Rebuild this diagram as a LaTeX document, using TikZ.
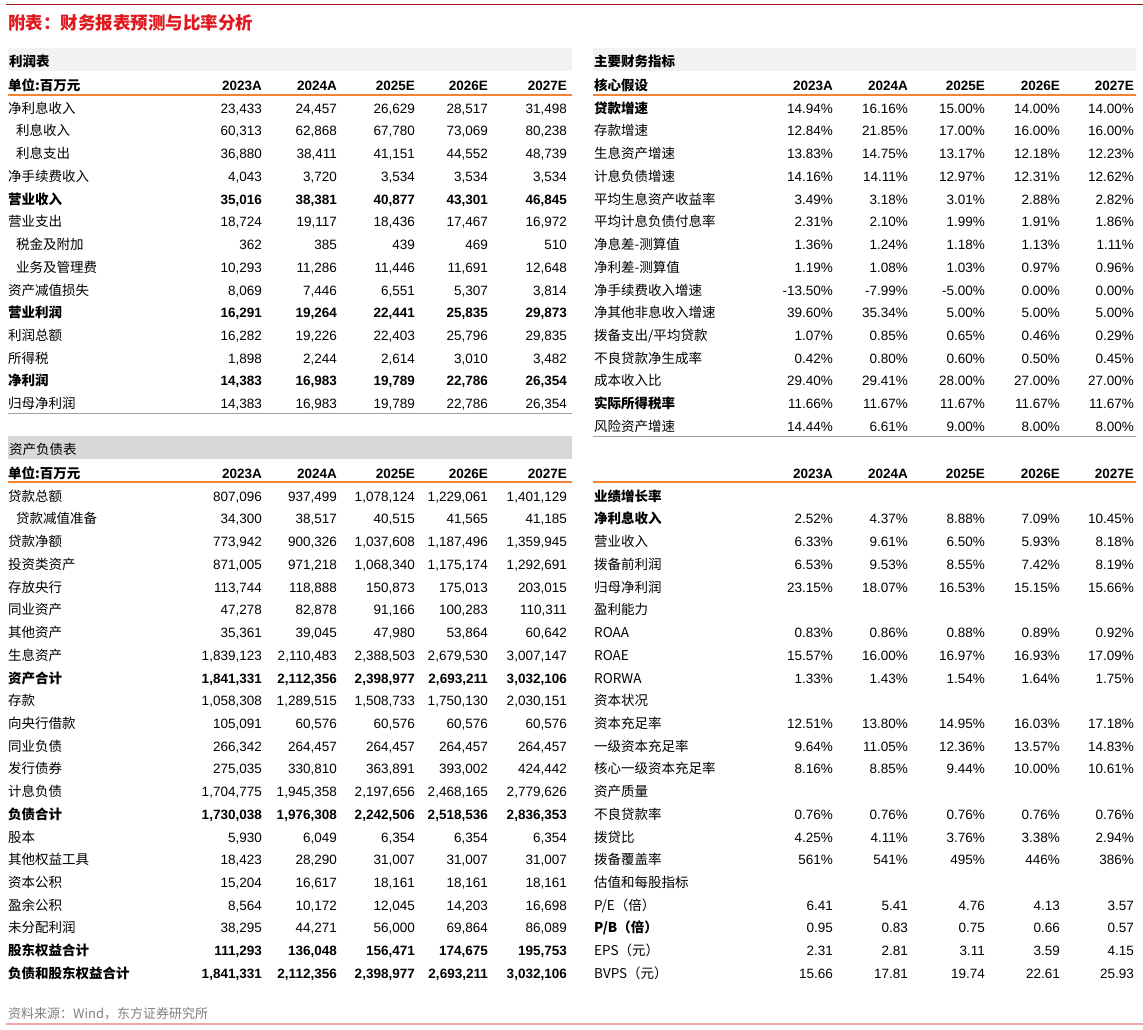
\documentclass[tikz,border=0pt]{standalone}
\usepackage{fontspec}
\setmainfont{Liberation Sans}
\newfontfamily\cjk{Noto Sans CJK SC}
\definecolor{titlered}{RGB}{222,24,30}
\definecolor{topred}{RGB}{170,20,20}
\definecolor{footred}{RGB}{242,168,168}
\definecolor{headorange}{RGB}{242,132,52}
\definecolor{bandlight}{RGB}{242,242,242}
\definecolor{banddark}{RGB}{216,216,216}
\definecolor{sepgray}{RGB}{160,160,160}

\begin{document}
\begin{tikzpicture}[x=1pt,y=-1pt,
  every node/.style={inner sep=0pt,text height=13pt,text depth=0.5pt},
  ln/.style={anchor=west,font=\cjk\fontsize{13.5}{16}\selectfont},
  lb/.style={anchor=west,font=\cjk\bfseries\fontsize{13.5}{16}\selectfont},
  li/.style={ln,xshift=8pt},
  vn/.style={anchor=east,font=\fontsize{13.5}{16}\selectfont},
  vb/.style={anchor=east,font=\bfseries\fontsize{13.5}{16}\selectfont},
  headline/.style={headorange,line width=1.5pt},
  endline/.style={sepgray,line width=1pt}]
\useasboundingbox (0,0) rectangle (1143,1030);
\fill[white] (0,0) rectangle (1143,1030);

% title and outer rules
\draw[topred,line width=1pt] (6,5) -- (1143,5);
\node[anchor=west,font=\cjk\bfseries\fontsize{17.5}{20}\selectfont,text=titlered] (title) at (8,23) {附表：财务报表预测与比率分析};
\draw[footred,line width=2pt] (6,1024) -- (1143,1024);
\node[anchor=west,font=\cjk\fontsize{13}{15}\selectfont,text=gray] (source) at (8,1012) {资料来源：Wind，东方证券研究所};

% bands and header rows
\fill[bandlight] (8,48) rectangle (572,71);
\fill[bandlight] (593,48) rectangle (1136,71);
\fill[banddark] (8,436) rectangle (572,459);
\node[lb] (isband) at (9,60) {利润表};
\node[lb] (kpiband) at (594,60) {主要财务指标};
\node[ln] (bsband) at (9,448) {资产负债表};
\node[lb] (ishead) at (8,84) {单位:百万元};
\node[lb] (kpihead) at (594,84) {核心假设};
\node[lb] (bshead) at (8,472) {单位:百万元};
\foreach \yr/\xl/\xr [count=\k] in {2023A/262/833,2024A/337/908,2025E/415/985,2026E/488/1060,2027E/567/1134}{
  \node[vb] (isyr\k) at (\xl,84) {\yr};
  \node[vb] (bsyr\k) at (\xl,472) {\yr};
  \node[vb] (kpiyr\k) at (\xr,84) {\yr};
  \node[vb] (grwyr\k) at (\xr,472) {\yr};
}
\draw[headline] (8,95) -- (572,95);
\draw[headline] (593,95) -- (1136,95);
\draw[headline] (8,482) -- (572,482);
\draw[headline] (593,482) -- (1136,482);

% income statement
\foreach \ls/\vs/\lab/\a/\b/\c/\d/\e [count=\i from 0] in {
  {ln/vn/净利息收入/23,433/24,457/26,629/28,517/31,498},
  {li/vn/利息收入/60,313/62,868/67,780/73,069/80,238},
  {li/vn/利息支出/36,880/38,411/41,151/44,552/48,739},
  {ln/vn/净手续费收入/4,043/3,720/3,534/3,534/3,534},
  {lb/vb/营业收入/35,016/38,381/40,877/43,301/46,845},
  {ln/vn/营业支出/18,724/19,117/18,436/17,467/16,972},
  {li/vn/税金及附加/362/385/439/469/510},
  {li/vn/业务及管理费/10,293/11,286/11,446/11,691/12,648},
  {ln/vn/资产减值损失/8,069/7,446/6,551/5,307/3,814},
  {lb/vb/营业利润/16,291/19,264/22,441/25,835/29,873},
  {ln/vn/利润总额/16,282/19,226/22,403/25,796/29,835},
  {ln/vn/所得税/1,898/2,244/2,614/3,010/3,482},
  {lb/vb/净利润/14,383/16,983/19,789/22,786/26,354},
  {ln/vn/归母净利润/14,383/16,983/19,789/22,786/26,354}}{
  \node[\ls] (is\i) at (8,107+22.72*\i) {\lab};
  \node[\vs] (is\i-1) at (262,107+22.72*\i) {\a};
  \node[\vs] (is\i-2) at (337,107+22.72*\i) {\b};
  \node[\vs] (is\i-3) at (415,107+22.72*\i) {\c};
  \node[\vs] (is\i-4) at (488,107+22.72*\i) {\d};
  \node[\vs] (is\i-5) at (567,107+22.72*\i) {\e};
}
\draw[endline] (8,413) -- (572,413);

% balance sheet
\foreach \ls/\vs/\lab/\a/\b/\c/\d/\e [count=\i from 0] in {
  {ln/vn/贷款总额/807,096/937,499/1,078,124/1,229,061/1,401,129},
  {li/vn/贷款减值准备/34,300/38,517/40,515/41,565/41,185},
  {ln/vn/贷款净额/773,942/900,326/1,037,608/1,187,496/1,359,945},
  {ln/vn/投资类资产/871,005/971,218/1,068,340/1,175,174/1,292,691},
  {ln/vn/存放央行/113,744/118,888/150,873/175,013/203,015},
  {ln/vn/同业资产/47,278/82,878/91,166/100,283/110,311},
  {ln/vn/其他资产/35,361/39,045/47,980/53,864/60,642},
  {ln/vn/生息资产/1,839,123/2,110,483/2,388,503/2,679,530/3,007,147},
  {lb/vb/资产合计/1,841,331/2,112,356/2,398,977/2,693,211/3,032,106},
  {ln/vn/存款/1,058,308/1,289,515/1,508,733/1,750,130/2,030,151},
  {ln/vn/向央行借款/105,091/60,576/60,576/60,576/60,576},
  {ln/vn/同业负债/266,342/264,457/264,457/264,457/264,457},
  {ln/vn/发行债券/275,035/330,810/363,891/393,002/424,442},
  {ln/vn/计息负债/1,704,775/1,945,358/2,197,656/2,468,165/2,779,626},
  {lb/vb/负债合计/1,730,038/1,976,308/2,242,506/2,518,536/2,836,353},
  {ln/vn/股本/5,930/6,049/6,354/6,354/6,354},
  {ln/vn/其他权益工具/18,423/28,290/31,007/31,007/31,007},
  {ln/vn/资本公积/15,204/16,617/18,161/18,161/18,161},
  {ln/vn/盈余公积/8,564/10,172/12,045/14,203/16,698},
  {ln/vn/未分配利润/38,295/44,271/56,000/69,864/86,089},
  {lb/vb/股东权益合计/111,293/136,048/156,471/174,675/195,753},
  {lb/vb/负债和股东权益合计/1,841,331/2,112,356/2,398,977/2,693,211/3,032,106}}{
  \node[\ls] (bs\i) at (8,495+22.72*\i) {\lab};
  \node[\vs] (bs\i-1) at (262,495+22.72*\i) {\a};
  \node[\vs] (bs\i-2) at (337,495+22.72*\i) {\b};
  \node[\vs] (bs\i-3) at (415,495+22.72*\i) {\c};
  \node[\vs] (bs\i-4) at (488,495+22.72*\i) {\d};
  \node[\vs] (bs\i-5) at (567,495+22.72*\i) {\e};
}

% key assumptions
\foreach \ls/\vs/\lab/\a/\b/\c/\d/\e [count=\i from 0] in {
  {lb/vn/贷款增速/14.94\%/16.16\%/15.00\%/14.00\%/14.00\%},
  {ln/vn/存款增速/12.84\%/21.85\%/17.00\%/16.00\%/16.00\%},
  {ln/vn/生息资产增速/13.83\%/14.75\%/13.17\%/12.18\%/12.23\%},
  {ln/vn/计息负债增速/14.16\%/14.11\%/12.97\%/12.31\%/12.62\%},
  {ln/vn/平均生息资产收益率/3.49\%/3.18\%/3.01\%/2.88\%/2.82\%},
  {ln/vn/平均计息负债付息率/2.31\%/2.10\%/1.99\%/1.91\%/1.86\%},
  {ln/vn/净息差-测算值/1.36\%/1.24\%/1.18\%/1.13\%/1.11\%},
  {ln/vn/净利差-测算值/1.19\%/1.08\%/1.03\%/0.97\%/0.96\%},
  {ln/vn/净手续费收入增速/-13.50\%/-7.99\%/-5.00\%/0.00\%/0.00\%},
  {ln/vn/净其他非息收入增速/39.60\%/35.34\%/5.00\%/5.00\%/5.00\%},
  {ln/vn/{拨备支出/平均贷款}/1.07\%/0.85\%/0.65\%/0.46\%/0.29\%},
  {ln/vn/不良贷款净生成率/0.42\%/0.80\%/0.60\%/0.50\%/0.45\%},
  {ln/vn/成本收入比/29.40\%/29.41\%/28.00\%/27.00\%/27.00\%},
  {lb/vn/实际所得税率/11.66\%/11.67\%/11.67\%/11.67\%/11.67\%},
  {ln/vn/风险资产增速/14.44\%/6.61\%/9.00\%/8.00\%/8.00\%}}{
  \node[\ls] (kpi\i) at (594,107+22.72*\i) {\lab};
  \node[\vs] (kpi\i-1) at (833,107+22.72*\i) {\a};
  \node[\vs] (kpi\i-2) at (908,107+22.72*\i) {\b};
  \node[\vs] (kpi\i-3) at (985,107+22.72*\i) {\c};
  \node[\vs] (kpi\i-4) at (1060,107+22.72*\i) {\d};
  \node[\vs] (kpi\i-5) at (1134,107+22.72*\i) {\e};
}
\draw[endline] (593,436) -- (1136,436);

% growth, ratios and per share
\foreach \ls/\vs/\lab/\a/\b/\c/\d/\e [count=\i from 0] in {
  {lb/vn/业绩增长率/////},
  {lb/vn/净利息收入/2.52\%/4.37\%/8.88\%/7.09\%/10.45\%},
  {ln/vn/营业收入/6.33\%/9.61\%/6.50\%/5.93\%/8.18\%},
  {ln/vn/拨备前利润/6.53\%/9.53\%/8.55\%/7.42\%/8.19\%},
  {ln/vn/归母净利润/23.15\%/18.07\%/16.53\%/15.15\%/15.66\%},
  {ln/vn/盈利能力/////},
  {ln/vn/ROAA/0.83\%/0.86\%/0.88\%/0.89\%/0.92\%},
  {ln/vn/ROAE/15.57\%/16.00\%/16.97\%/16.93\%/17.09\%},
  {ln/vn/RORWA/1.33\%/1.43\%/1.54\%/1.64\%/1.75\%},
  {ln/vn/资本状况/////},
  {ln/vn/资本充足率/12.51\%/13.80\%/14.95\%/16.03\%/17.18\%},
  {ln/vn/一级资本充足率/9.64\%/11.05\%/12.36\%/13.57\%/14.83\%},
  {ln/vn/核心一级资本充足率/8.16\%/8.85\%/9.44\%/10.00\%/10.61\%},
  {ln/vn/资产质量/////},
  {ln/vn/不良贷款率/0.76\%/0.76\%/0.76\%/0.76\%/0.76\%},
  {ln/vn/拨贷比/4.25\%/4.11\%/3.76\%/3.38\%/2.94\%},
  {ln/vn/拨备覆盖率/561\%/541\%/495\%/446\%/386\%},
  {ln/vn/估值和每股指标/////},
  {ln/vn/{P/E（倍）}/6.41/5.41/4.76/4.13/3.57},
  {lb/vn/{P/B（倍）}/0.95/0.83/0.75/0.66/0.57},
  {ln/vn/EPS（元）/2.31/2.81/3.11/3.59/4.15},
  {ln/vn/BVPS（元）/15.66/17.81/19.74/22.61/25.93}}{
  \node[\ls] (grw\i) at (594,495+22.72*\i) {\lab};
  \node[\vs] (grw\i-1) at (833,495+22.72*\i) {\a};
  \node[\vs] (grw\i-2) at (908,495+22.72*\i) {\b};
  \node[\vs] (grw\i-3) at (985,495+22.72*\i) {\c};
  \node[\vs] (grw\i-4) at (1060,495+22.72*\i) {\d};
  \node[\vs] (grw\i-5) at (1134,495+22.72*\i) {\e};
}
\end{tikzpicture}
\end{document}
